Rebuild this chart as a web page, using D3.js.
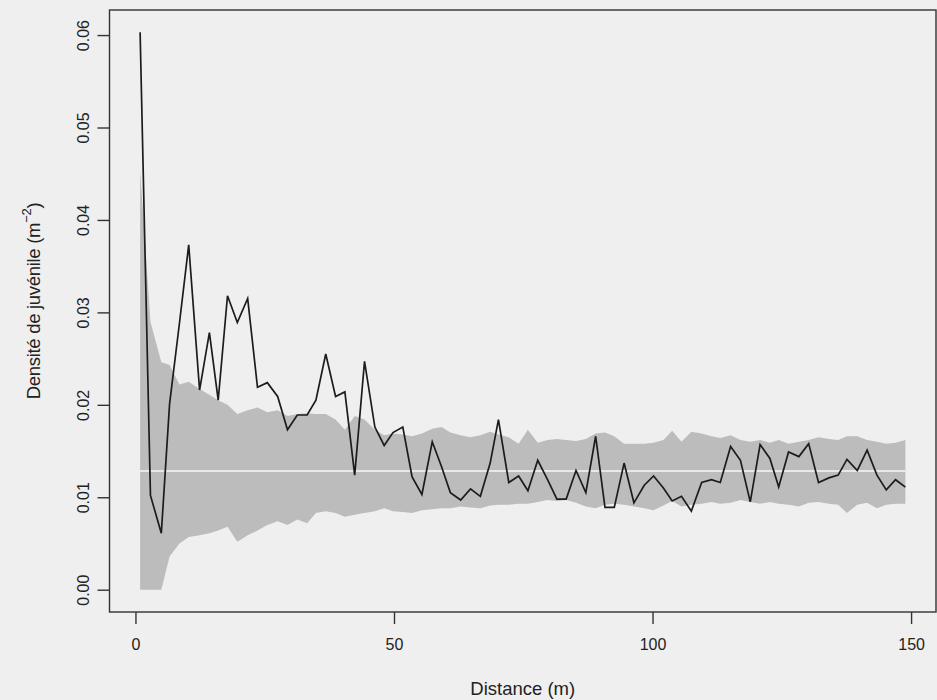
<!DOCTYPE html>
<html lang="fr">
<head>
    <meta charset="utf-8">
    <title>Densité de juvénile</title>
    <script src="https://d3js.org/d3.v7.min.js"></script>
    <style>
        body { margin: 0; background: #efefef; }
        #chart svg { display: block; font-family: "Liberation Sans", Arial, sans-serif; }
    </style>
</head>
<body>

<div id="chart"></div>

<script>

// distance (m) of each class
var distance = [0.9, 2.9, 5.0, 6.6, 8.5, 10.3, 12.4, 14.3, 16.0, 17.8,
    19.7, 21.7, 23.6, 25.5, 27.5, 29.4, 31.3, 33.2, 34.9, 36.8,
    38.7, 40.5, 42.4, 44.3, 46.3, 48.1, 49.8, 51.7, 53.5, 55.4,
    57.4, 59.2, 60.9, 62.9, 64.8, 66.7, 68.6, 70.2, 72.2, 74.1,
    75.9, 77.8, 79.7, 81.5, 83.3, 85.2, 87.1, 89.0, 90.8, 92.6,
    94.5, 96.4, 98.4, 100.2, 102.1, 103.8, 105.6, 107.5, 109.5, 111.4,
    113.1, 115.1, 117.0, 118.9, 120.8, 122.7, 124.4, 126.3, 128.3, 130.2,
    132.1, 134.1, 135.9, 137.6, 139.6, 141.5, 143.4, 145.2, 147.0, 148.9];

// observed density
var observed = [0.0603, 0.0102, 0.0061, 0.0201, 0.0288, 0.0373, 0.0216, 0.0278, 0.0205, 0.0318,
    0.0289, 0.0315, 0.0219, 0.0224, 0.0209, 0.0173, 0.0189, 0.0189, 0.0205, 0.0255,
    0.0209, 0.0214, 0.0124, 0.0247, 0.0176, 0.0156, 0.0170, 0.0176, 0.0122, 0.0103,
    0.0160, 0.0133, 0.0105, 0.0097, 0.0109, 0.0101, 0.0137, 0.0184, 0.0116, 0.0123,
    0.0107, 0.0140, 0.0119, 0.0098, 0.0098, 0.0129, 0.0105, 0.0166, 0.0089, 0.0089,
    0.0137, 0.0094, 0.0113, 0.0123, 0.0110, 0.0096, 0.0101, 0.0085, 0.0116, 0.0119,
    0.0116, 0.0155, 0.0140, 0.0095, 0.0157, 0.0142, 0.0111, 0.0149, 0.0144, 0.0158,
    0.0116, 0.0121, 0.0124, 0.0141, 0.0129, 0.0151, 0.0124, 0.0108, 0.0119, 0.0111];

// envelope (upper / lower)
var upper = [0.0454, 0.0290, 0.0246, 0.0243, 0.0222, 0.0225, 0.0217, 0.0211, 0.0205, 0.0200,
    0.0190, 0.0194, 0.0197, 0.0192, 0.0194, 0.0188, 0.0190, 0.0191, 0.0190, 0.0190,
    0.0184, 0.0173, 0.0188, 0.0184, 0.0173, 0.0167, 0.0169, 0.0168, 0.0166, 0.0169,
    0.0174, 0.0176, 0.0170, 0.0167, 0.0165, 0.0167, 0.0171, 0.0168, 0.0165, 0.0158,
    0.0173, 0.0159, 0.0162, 0.0163, 0.0162, 0.0161, 0.0163, 0.0169, 0.0170, 0.0166,
    0.0158, 0.0158, 0.0158, 0.0159, 0.0162, 0.0172, 0.0160, 0.0171, 0.0169, 0.0166,
    0.0164, 0.0167, 0.0162, 0.0160, 0.0162, 0.0159, 0.0162, 0.0158, 0.0160, 0.0162,
    0.0165, 0.0163, 0.0162, 0.0166, 0.0166, 0.0162, 0.0160, 0.0158, 0.0159, 0.0162];

var lower = [0.0000, 0.0000, 0.0000, 0.0036, 0.0050, 0.0057, 0.0059, 0.0061, 0.0064, 0.0068,
    0.0052, 0.0059, 0.0064, 0.0070, 0.0074, 0.0070, 0.0076, 0.0072, 0.0083, 0.0085,
    0.0083, 0.0079, 0.0081, 0.0083, 0.0085, 0.0088, 0.0085, 0.0084, 0.0083, 0.0086,
    0.0087, 0.0088, 0.0088, 0.0090, 0.0089, 0.0088, 0.0091, 0.0092, 0.0092, 0.0093,
    0.0093, 0.0095, 0.0097, 0.0096, 0.0097, 0.0094, 0.0090, 0.0088, 0.0092, 0.0093,
    0.0092, 0.0090, 0.0088, 0.0086, 0.0091, 0.0096, 0.0090, 0.0092, 0.0093, 0.0095,
    0.0093, 0.0094, 0.0097, 0.0095, 0.0093, 0.0095, 0.0093, 0.0092, 0.0090, 0.0094,
    0.0095, 0.0093, 0.0092, 0.0083, 0.0092, 0.0094, 0.0088, 0.0092, 0.0093, 0.0093];

var meanDensity = 0.01284;

var xTicks = [0, 50, 100, 150];
var yTicks = [0, 0.01, 0.02, 0.03, 0.04, 0.05, 0.06];

var W = 937, H = 700;
var margin = {top: 10, right: 1, bottom: 88, left: 109.5};
var width = W - margin.left - margin.right,
    height = H - margin.top - margin.bottom;

var data = distance.map(function(d, i) {
    return {d: d, obs: observed[i], hi: upper[i], lo: lower[i]};
});

// R-style 4% padding around the data range
var xr = d3.extent(distance), xpad = (xr[1] - xr[0]) * 0.04;
var yr = [0, d3.max(observed)], ypad = (yr[1] - yr[0]) * 0.04;

var x = d3.scaleLinear().domain([xr[0] - xpad, xr[1] + xpad]).range([0, width]);
var y = d3.scaleLinear().domain([yr[0] - ypad, yr[1] + ypad]).range([height, 0]);

var svgRoot = d3.select("#chart").append("svg")
    .attr("width", W)
    .attr("height", H);

svgRoot.append("rect")
    .attr("width", W).attr("height", H)
    .attr("fill", "#efefef");

var svg = svgRoot.append("g")
    .attr("transform", "translate(" + margin.left + "," + margin.top + ")");

// envelope
svg.append("path")
    .datum(data)
    .attr("fill", "#bcbcbc")
    .attr("d", d3.area()
        .x(function(d) { return x(d.d); })
        .y0(function(d) { return y(d.lo); })
        .y1(function(d) { return y(d.hi); }));

// mean line
svg.append("line")
    .attr("x1", x(distance[0]))
    .attr("x2", x(distance[distance.length - 1]))
    .attr("y1", y(meanDensity))
    .attr("y2", y(meanDensity))
    .attr("stroke", "#f7f7f7")
    .attr("stroke-width", 1.5);

// observed line
svg.append("path")
    .datum(data)
    .attr("fill", "none")
    .attr("stroke", "#1c1c1c")
    .attr("stroke-width", 1.7)
    .attr("stroke-linejoin", "miter")
    .attr("d", d3.line()
        .x(function(d) { return x(d.d); })
        .y(function(d) { return y(d.obs); }));

// box
svg.append("rect")
    .attr("width", width)
    .attr("height", height)
    .attr("fill", "none")
    .attr("stroke", "#333")
    .attr("stroke-width", 1.4);

// x axis
var gx = svg.append("g")
    .attr("transform", "translate(0," + height + ")")
    .call(d3.axisBottom(x).tickValues(xTicks).tickSize(12).tickPadding(15).tickFormat(d3.format("d")));
gx.select(".domain").remove();
gx.selectAll(".tick line").attr("stroke", "#333").attr("stroke-width", 1.4);
gx.selectAll(".tick text")
    .attr("fill", "#222")
    .style("font-size", "16px")
    .style("font-family", "Liberation Sans, Arial, sans-serif");

// y axis
var gy = svg.append("g")
    .call(d3.axisLeft(y).tickValues(yTicks).tickSize(12).tickFormat(d3.format(".2f")));
gy.select(".domain").remove();
gy.selectAll(".tick line").attr("stroke", "#333").attr("stroke-width", 1.4);
gy.selectAll(".tick text")
    .attr("x", 0)
    .attr("dy", 0)
    .attr("transform", "translate(-21,0) rotate(-90)")
    .attr("text-anchor", "middle")
    .attr("fill", "#222")
    .style("font-size", "16px")
    .style("font-family", "Liberation Sans, Arial, sans-serif");

// axis titles
svgRoot.append("text")
    .attr("x", margin.left + width / 2)
    .attr("y", 695)
    .attr("text-anchor", "middle")
    .attr("fill", "#222")
    .style("font-size", "18.5px")
    .text("Distance (m)");

var yl = svgRoot.append("text")
    .attr("transform", "translate(40," + (margin.top + height / 2 - 10) + ") rotate(-90)")
    .attr("text-anchor", "middle")
    .attr("fill", "#222")
    .style("font-size", "18.5px")
    .style("letter-spacing", "-0.3px");
yl.append("tspan").text("Densité de juvénile (m");
yl.append("tspan").attr("dy", -9).style("font-size", "13px").text("−2");
yl.append("tspan").attr("dy", 9).text(")");

</script>
</body>
</html>
